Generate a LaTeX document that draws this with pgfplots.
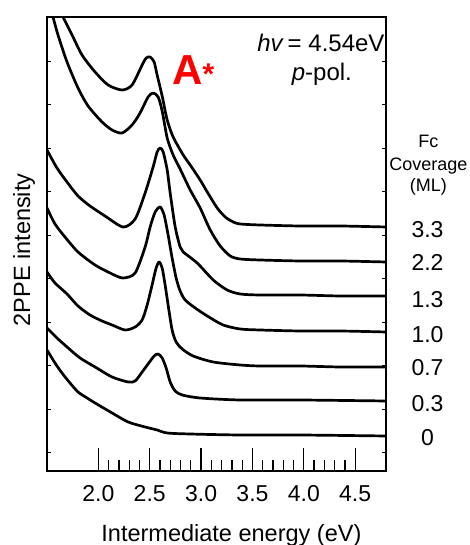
\documentclass[border=0pt]{standalone}
\usepackage{fontspec}
\setmainfont{Liberation Sans}
\usepackage{pgfplots}
\pgfplotsset{compat=1.18}
\begin{document}
\begin{tikzpicture}
\path[use as bounding box] (-47pt,-74pt) rectangle (422pt,471pt);
\begin{axis}[
  name=main,
  at={(0pt,0pt)}, anchor=south west,
  scale only axis, width=339pt, height=454pt,
  xmin=1.5, xmax=4.8, ymin=0, ymax=454,
  axis line style={black, line width=1.5pt},
  xtick={2.0,2.5,3.0,3.5,4.0,4.5},
  xticklabels={2.0,2.5,3.0,3.5,4.0,4.5},
  minor x tick num=4,
  ytick=\empty,
  xtick pos=left,
  tick align=inside,
  major tick length=23pt, minor tick length=11pt,
  tick style={black, line width=1.2pt},
  /pgf/number format/assume math mode=true,
  xticklabel style={font=\fontsize{23}{23}\selectfont, yshift=-11pt},
  xlabel={Intermediate energy (eV)},
  xlabel style={at={(axis description cs:0.544,0)}, anchor=base, yshift=-70pt, font=\fontsize{23.5}{23.5}\selectfont},
  ylabel={2PPE intensity},
  ylabel style={at={(axis description cs:-0.068,0.487)}, anchor=center, font=\fontsize{23.5}{23.5}\selectfont},
  clip mode=individual,
  cycle list={{black,solid,mark=none}},
  every axis plot/.append style={black, line width=2.7pt, smooth, tension=0.45, line join=round, mark=none},
]
% 3.3 ML
\addplot coordinates {(1.636,458)(1.656,454)(1.744,436)(1.841,416)(1.968,399)(2.095,386)(2.231,381)(2.328,386)(2.426,406)(2.465,413)(2.504,414)(2.543,409)(2.572,396)(2.621,375)(2.670,351)(2.728,334)(2.826,316)(2.894,306)(2.991,291)(3.060,279)(3.157,263)(3.235,254)(3.313,249)(3.381,247)(3.576,246)(3.966,245)(4.356,245)(4.804,244)};
% 2.2 ML
\addplot coordinates {(1.529,463)(1.558,454)(1.607,436)(1.695,409)(1.802,383)(1.900,365)(2.036,349)(2.134,341)(2.231,338)(2.328,346)(2.406,358)(2.484,374)(2.533,378)(2.582,374)(2.621,360)(2.670,333)(2.728,316)(2.796,302)(2.894,281)(2.991,263)(3.089,241)(3.186,225)(3.284,215)(3.381,212)(3.576,211)(3.966,210)(4.356,210)(4.804,209)};
% 1.3 ML
\addplot coordinates {(1.500,321)(1.597,303)(1.695,289)(1.802,275)(1.919,265)(2.065,255)(2.241,244)(2.358,252)(2.455,278)(2.533,304)(2.572,319)(2.601,323)(2.631,319)(2.670,301)(2.699,278)(2.748,244)(2.796,224)(2.826,219)(2.962,208)(3.118,191)(3.254,181)(3.381,177)(3.576,176)(3.966,176)(4.356,175)(4.804,175)};
% 1.0 ML
\addplot coordinates {(1.500,263)(1.578,247)(1.675,234)(1.802,219)(1.968,206)(2.134,197)(2.241,193)(2.358,198)(2.455,224)(2.504,244)(2.553,259)(2.601,264)(2.640,256)(2.679,236)(2.718,213)(2.757,193)(2.796,180)(2.845,171)(2.943,163)(3.060,155)(3.215,146)(3.381,142)(3.576,141)(3.966,140)(4.356,140)(4.804,139)};
% 0.7 ML
\addplot coordinates {(1.500,199)(1.578,188)(1.695,177)(1.802,165)(1.919,156)(2.036,150)(2.134,146)(2.260,141)(2.358,144)(2.426,151)(2.475,166)(2.523,186)(2.562,203)(2.592,209)(2.621,203)(2.650,186)(2.679,166)(2.718,141)(2.757,129)(2.816,122)(2.923,115)(3.118,109)(3.381,106)(3.576,105)(3.966,105)(4.356,104)(4.804,104)};
% 0.3 ML
\addplot coordinates {(1.500,143)(1.597,133)(1.695,124)(1.822,113)(1.968,104)(2.134,94)(2.290,89)(2.358,90)(2.426,99)(2.484,107)(2.543,115)(2.582,117)(2.621,113)(2.660,103)(2.699,89)(2.748,80)(2.816,76)(2.991,73)(3.381,71)(3.966,71)(4.804,70)};
% 0 ML
\addplot coordinates {(1.500,121)(1.578,108)(1.646,98)(1.724,88)(1.802,79)(1.890,73)(1.968,68)(2.134,58)(2.290,49)(2.455,44)(2.572,41)(2.670,38)(2.894,37)(3.381,36)(3.966,36)(4.804,35)};

% annotations
\node[anchor=base west, inner sep=0pt, text=red, font=\bfseries\fontsize{42}{42}\selectfont] at (axis cs:2.718,386) {A{\fontsize{30}{30}\selectfont *}};
\node[anchor=base, inner sep=0pt, font=\fontsize{24}{24}\selectfont] at (axis cs:4.166,419) {\textit{hv}\,= 4.54eV};
\node[anchor=base, inner sep=0pt, font=\fontsize{24}{24}\selectfont] at (axis cs:4.176,390) {\textit{p}-pol.};
\node[anchor=base, inner sep=0pt, font=\fontsize{18}{18}\selectfont] at (axis cs:5.213,323) {Fc};
\node[anchor=base, inner sep=0pt, font=\fontsize{18}{18}\selectfont] at (axis cs:5.213,300) {Coverage};
\node[anchor=base, inner sep=0pt, font=\fontsize{18}{18}\selectfont] at (axis cs:5.213,279) {(ML)};
\node[anchor=center, inner sep=0pt, font=\fontsize{23}{23}\selectfont] at (axis cs:5.204,241.5) {3.3};
\node[anchor=center, inner sep=0pt, font=\fontsize{23}{23}\selectfont] at (axis cs:5.204,208.5) {2.2};
\node[anchor=center, inner sep=0pt, font=\fontsize{23}{23}\selectfont] at (axis cs:5.204,171) {1.3};
\node[anchor=center, inner sep=0pt, font=\fontsize{23}{23}\selectfont] at (axis cs:5.204,136.5) {1.0};
\node[anchor=center, inner sep=0pt, font=\fontsize{23}{23}\selectfont] at (axis cs:5.204,103.5) {0.7};
\node[anchor=center, inner sep=0pt, font=\fontsize{23}{23}\selectfont] at (axis cs:5.204,67.5) {0.3};
\node[anchor=center, inner sep=0pt, font=\fontsize{23}{23}\selectfont] at (axis cs:5.204,33.5) {0};
\end{axis}
\begin{axis}[
  at={(0pt,0pt)}, anchor=south west,
  scale only axis, width=339pt, height=454pt,
  xmin=1.5, xmax=4.8, ymin=0, ymax=454,
  axis line style={draw=none},
  xtick=\empty,
  minor xtick={1.6,1.7,1.8,1.9,2.0,2.1,2.2,2.3,2.4,2.5,2.6,2.7,2.8,2.9,3.0,3.1,3.2,3.3,3.4,3.5,3.6,3.7,3.8,3.9,4.0,4.1,4.2,4.3,4.4,4.5,4.6,4.7},
  xtick pos=right,
  ytick={18.3,61.8,105.3,148.8,192.3,235.8,279.3,322.8,366.3,409.8},
  yticklabels={},
  ytick pos=both,
  tick align=inside,
  major tick length=4pt, minor tick length=2pt,
  tick style={black, line width=1pt},
]
\end{axis}
\fill[black, even odd rule]
  ([xshift=-0.9pt,yshift=-0.9pt]main.south west) -- ([xshift=0.9pt,yshift=-0.9pt]main.south east) -- ([xshift=0.9pt,yshift=0.9pt]main.north east) -- ([xshift=-0.9pt,yshift=0.9pt]main.north west) -- cycle
  ([xshift=0.9pt,yshift=0.9pt]main.south west) -- ([xshift=-0.9pt,yshift=0.9pt]main.south east) -- ([xshift=-0.9pt,yshift=-0.9pt]main.north east) -- ([xshift=0.9pt,yshift=-0.9pt]main.north west) -- cycle;
\end{tikzpicture}
\end{document}
